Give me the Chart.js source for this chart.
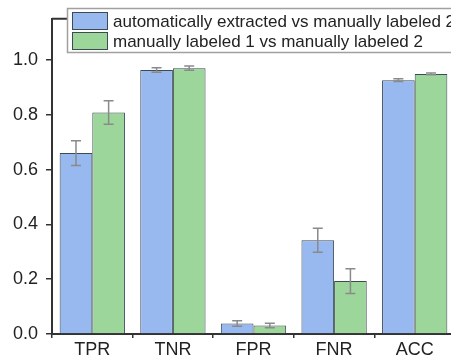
<!DOCTYPE html>
<html>
<head>
<meta charset="utf-8">
<script src="https://cdn.jsdelivr.net/npm/chart.js@4"></script>
<style>
  html, body { margin: 0; padding: 0; background: #fff; overflow: hidden; }
  #wrap { width: 470px; height: 362px; }
</style>
</head>
<body>
<div id="wrap"><canvas id="chart" width="470" height="362"></canvas></div>
<script>
const categories = ['TPR', 'TNR', 'FPR', 'FNR', 'ACC'];
const seriesNames = ['automatically extracted vs manually labeled 2', 'manually labeled 1 vs manually labeled 2'];
const autoValues = [0.66, 0.963, 0.038, 0.342, 0.926];
const autoErrors = [0.045, 0.008, 0.01, 0.044, 0.005];
const manualValues = [0.808, 0.97, 0.031, 0.193, 0.949];
const manualErrors = [0.043, 0.008, 0.008, 0.045, 0.003];
const yTicks = [0, 0.2, 0.4, 0.6, 0.8, 1.0];

const FONT = 'Arial, "Liberation Sans", sans-serif';
const AXIS = '#333';

// error bars, drawn from the bar elements and y scale
const errorBars = {
    id: 'errorBars',
    afterDatasetsDraw(chart) {
        const ctx = chart.ctx;
        const y = chart.scales.y;
        ctx.save();
        ctx.strokeStyle = '#8a8a8a';
        ctx.lineWidth = 1.5;
        chart.data.datasets.forEach((ds, i) => {
            const meta = chart.getDatasetMeta(i);
            meta.data.forEach((bar, j) => {
                const v = ds.data[j], e = ds.errors[j];
                const top = y.getPixelForValue(v + e);
                const bot = y.getPixelForValue(v - e);
                ctx.beginPath();
                ctx.moveTo(bar.x, top); ctx.lineTo(bar.x, bot);
                ctx.moveTo(bar.x - 5, top); ctx.lineTo(bar.x + 5, top);
                ctx.moveTo(bar.x - 5, bot); ctx.lineTo(bar.x + 5, bot);
                ctx.stroke();
            });
        });
        ctx.restore();
    }
};

// frame top line + boxed legend
const frameLegend = {
    id: 'frameLegend',
    afterDraw(chart) {
        const ctx = chart.ctx;
        const a = chart.chartArea;
        ctx.save();
        ctx.strokeStyle = AXIS;
        ctx.lineWidth = 2;
        ctx.beginPath();
        ctx.moveTo(a.left, a.top); ctx.lineTo(a.right, a.top);
        ctx.stroke();

        ctx.fillStyle = '#fff';
        ctx.fillRect(67, 8, 420, 45);
        ctx.strokeStyle = '#a0a0a0';
        ctx.lineWidth = 1.5;
        ctx.strokeRect(67.5, 8.5, 420, 44);

        ctx.font = '17px ' + FONT;
        ctx.textBaseline = 'middle';
        chart.data.datasets.forEach((ds, i) => {
            const top = 12 + i * 20;
            ctx.fillStyle = ds.backgroundColor;
            ctx.fillRect(72, top, 36, 18);
            ctx.strokeStyle = ds.borderColor;
            ctx.lineWidth = 1;
            ctx.strokeRect(72.5, top + 0.5, 35, 17);
            ctx.fillStyle = '#222';
            ctx.fillText(ds.label, 113, top + 10);
        });
        ctx.restore();
    }
};

new Chart(document.getElementById('chart'), {
    type: 'bar',
    data: {
        labels: categories,
        datasets: [{
            label: seriesNames[0],
            data: autoValues,
            errors: autoErrors,
            backgroundColor: '#98b9ef',
            borderColor: '#3c4a52',
            borderWidth: 1
        }, {
            label: seriesNames[1],
            data: manualValues,
            errors: manualErrors,
            backgroundColor: '#9dd69b',
            borderColor: '#3c4a52',
            borderWidth: 1
        }]
    },
    options: {
        responsive: false,
        animation: false,
        categoryPercentage: 0.81,
        barPercentage: 1.0,
        layout: { padding: { top: 10, right: 15, left: 0, bottom: 0 } },
        plugins: {
            legend: { display: false },
            tooltip: { enabled: false }
        },
        scales: {
            x: {
                offset: true,
                grid: { offset: true, drawOnChartArea: false, tickLength: 4, color: AXIS, lineWidth: 1.5 },
                border: { display: true, color: AXIS, width: 2 },
                ticks: { font: { size: 18, family: FONT }, color: '#222', padding: 1, maxRotation: 0 },
                afterFit(scale) { scale.height = 28; }
            },
            y: {
                min: 0,
                max: 1.15,
                grid: { drawOnChartArea: false, tickLength: 6, color: AXIS, lineWidth: 1.5 },
                border: { display: true, color: AXIS, width: 2 },
                afterBuildTicks(scale) { scale.ticks = yTicks.map(v => ({ value: v })); },
                ticks: {
                    font: { size: 18, family: FONT },
                    color: '#222',
                    padding: 8,
                    callback: v => Number(v).toFixed(1)
                },
                afterFit(scale) { scale.width = 52; }
            }
        }
    },
    plugins: [errorBars, frameLegend]
});
</script>
</body>
</html>
